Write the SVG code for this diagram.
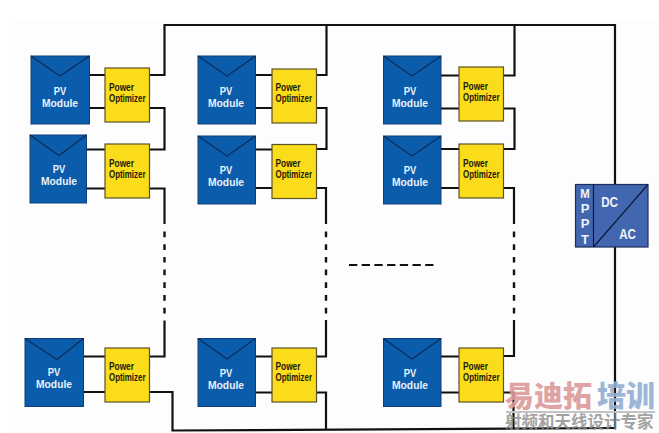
<svg xmlns="http://www.w3.org/2000/svg" width="659" height="433" viewBox="0 0 659 433">
  <defs>
    <style>
      .wire { fill: none; stroke: #111; stroke-width: 2.2; }
      .dash { fill: none; stroke: #111; stroke-width: 2.4; stroke-dasharray: 5.7 7; }
      .gap { fill: none; stroke: #111; stroke-width: 2.2; stroke-dasharray: 8.3 4.4; }
      .panel { fill: #0b5cab; stroke: #0c3f78; stroke-width: 1; }
      .fold { fill: none; stroke: #0a2c58; stroke-width: 1.2; }
      .opt { fill: #fbdc1a; stroke: #5a5226; stroke-width: 1.2; }
      .pv { font: bold 11.8px "Liberation Sans", sans-serif; fill: #eaf2fb; text-anchor: middle; }
      .po { font: bold 10px "Liberation Sans", sans-serif; fill: #1d1a08; }
      .inv { font: bold 13px "Liberation Sans", sans-serif; fill: #eef3fb; text-anchor: middle; }
      .big { font-size: 15.500px; }
      .wm { font: 900 29px "Noto Sans CJK SC", sans-serif; opacity: .9; }
      .wm2 { font: bold 16.500px "Noto Sans CJK SC", sans-serif; fill: #8c8c8c; opacity: .8; }
    </style>
  </defs>
  <rect width="659" height="433" fill="#fff"/>
  <rect x="10" y="19" width="649" height="414" fill="#fdfdfd"/>

  <g id="connectors">
    <!-- main DC bus around the strings -->
    <path class="wire" d="M150 75H164.500V25H615V185M615 247V428"/>
    <path class="wire" d="M616 428L172.500 430.500V392H150"/>
    <!-- string 1 -->
    <path class="wire" d="M89 75H105M89 108H105M150 108H164.500V149.500H150M86 149.500H105M86 188.500H105M150 188.500H164.500V224"/>
    <path class="dash" d="M164.500 231.500V314.500"/>
    <path class="wire" d="M164.500 320.500V356.500H150M84 356.500H105M84 392H105"/>
    <!-- string 2 -->
    <path class="wire" d="M255 75H272M255 108H272M316 75H326.500V25M316 108H326.500V149H316M255 149.500H272M255 188H272M316 188H326V224"/>
    <path class="dash" d="M326 231.500V314.500"/>
    <path class="wire" d="M326 320V356.500H316M255 356.500H272M255 392.500H272M316 392.500H326V430"/>
    <!-- string 3 -->
    <path class="wire" d="M441 75.500H459M441 108.500H459M504 75.500H514.500V25M504 108.500H514.500V149H504M441 149H459M441 188H459M504 188H514V224"/>
    <path class="dash" d="M514 231.500V314.500"/>
    <path class="wire" d="M514 320V356H504M441 356.500H459M441 392.500H459M504 392.500H513.500V429"/>
    <!-- gap between strings -->
    <path class="gap" d="M349 265H435"/>
  </g>

  <g id="s1m1"><rect class="panel" x="31" y="56" width="58.500" height="68"/><path class="fold" d="M31 56L60 76L89.500 56"/><text class="pv" x="60" y="94.500" textLength="12.500" lengthAdjust="spacingAndGlyphs">PV</text><text class="pv" x="60" y="106.500" textLength="36" lengthAdjust="spacingAndGlyphs">Module</text></g>
  <g id="s1p1"><rect class="opt" x="105" y="68" width="44.500" height="54"/><text class="po" x="109" y="90.500" textLength="25" lengthAdjust="spacingAndGlyphs">Power</text><text class="po" x="109" y="102" textLength="36.500" lengthAdjust="spacingAndGlyphs">Optimizer</text></g>
  <g id="s1m2"><rect class="panel" x="30" y="135" width="56.500" height="68"/><path class="fold" d="M30 135L59 155.500L86.500 135"/><text class="pv" x="59" y="173" textLength="12.500" lengthAdjust="spacingAndGlyphs">PV</text><text class="pv" x="59" y="185" textLength="36" lengthAdjust="spacingAndGlyphs">Module</text></g>
  <g id="s1p2"><rect class="opt" x="105" y="144" width="44.500" height="54"/><text class="po" x="109" y="166.500" textLength="25" lengthAdjust="spacingAndGlyphs">Power</text><text class="po" x="109" y="178" textLength="36.500" lengthAdjust="spacingAndGlyphs">Optimizer</text></g>
  <g id="s1m3"><rect class="panel" x="25" y="338.500" width="58.500" height="68"/><path class="fold" d="M25 338.500L57 359.500L83.500 338.500"/><text class="pv" x="54" y="375.500" textLength="12.500" lengthAdjust="spacingAndGlyphs">PV</text><text class="pv" x="54" y="387.500" textLength="36" lengthAdjust="spacingAndGlyphs">Module</text></g>
  <g id="s1p3"><rect class="opt" x="105" y="348" width="44.500" height="54"/><text class="po" x="109" y="369.500" textLength="25" lengthAdjust="spacingAndGlyphs">Power</text><text class="po" x="109" y="381" textLength="36.500" lengthAdjust="spacingAndGlyphs">Optimizer</text></g>

  <g id="s2m1"><rect class="panel" x="198" y="56" width="57.500" height="68"/><path class="fold" d="M198 56L227 76L255.500 56"/><text class="pv" x="226" y="94.500" textLength="12.500" lengthAdjust="spacingAndGlyphs">PV</text><text class="pv" x="226" y="106.500" textLength="36" lengthAdjust="spacingAndGlyphs">Module</text></g>
  <g id="s2p1"><rect class="opt" x="272" y="69" width="44.500" height="54"/><text class="po" x="275.500" y="90.500" textLength="25" lengthAdjust="spacingAndGlyphs">Power</text><text class="po" x="275.500" y="102" textLength="36.500" lengthAdjust="spacingAndGlyphs">Optimizer</text></g>
  <g id="s2m2"><rect class="panel" x="198" y="136" width="57.500" height="68"/><path class="fold" d="M198 136L227 156L255.500 136"/><text class="pv" x="226" y="174" textLength="12.500" lengthAdjust="spacingAndGlyphs">PV</text><text class="pv" x="226" y="186" textLength="36" lengthAdjust="spacingAndGlyphs">Module</text></g>
  <g id="s2p2"><rect class="opt" x="272" y="144.500" width="44.500" height="54"/><text class="po" x="275.500" y="166.500" textLength="25" lengthAdjust="spacingAndGlyphs">Power</text><text class="po" x="275.500" y="178" textLength="36.500" lengthAdjust="spacingAndGlyphs">Optimizer</text></g>
  <g id="s2m3"><rect class="panel" x="198" y="338.500" width="57.500" height="68"/><path class="fold" d="M198 338.500L227 359L255.500 338.500"/><text class="pv" x="226" y="376.500" textLength="12.500" lengthAdjust="spacingAndGlyphs">PV</text><text class="pv" x="226" y="388.500" textLength="36" lengthAdjust="spacingAndGlyphs">Module</text></g>
  <g id="s2p3"><rect class="opt" x="272" y="348" width="44.500" height="54"/><text class="po" x="275.500" y="369.500" textLength="25" lengthAdjust="spacingAndGlyphs">Power</text><text class="po" x="275.500" y="381" textLength="36.500" lengthAdjust="spacingAndGlyphs">Optimizer</text></g>

  <g id="s3m1"><rect class="panel" x="383.500" y="56" width="57.500" height="68"/><path class="fold" d="M383.500 56L412 76L441 56"/><text class="pv" x="410" y="94.500" textLength="12.500" lengthAdjust="spacingAndGlyphs">PV</text><text class="pv" x="410" y="106.500" textLength="36" lengthAdjust="spacingAndGlyphs">Module</text></g>
  <g id="s3p1"><rect class="opt" x="459" y="67" width="44.500" height="54"/><text class="po" x="463" y="89.500" textLength="25" lengthAdjust="spacingAndGlyphs">Power</text><text class="po" x="463" y="101" textLength="36.500" lengthAdjust="spacingAndGlyphs">Optimizer</text></g>
  <g id="s3m2"><rect class="panel" x="383.500" y="136" width="57.500" height="68"/><path class="fold" d="M383.500 136L412 156L441 136"/><text class="pv" x="410" y="174" textLength="12.500" lengthAdjust="spacingAndGlyphs">PV</text><text class="pv" x="410" y="186" textLength="36" lengthAdjust="spacingAndGlyphs">Module</text></g>
  <g id="s3p2"><rect class="opt" x="459" y="144" width="44.500" height="54"/><text class="po" x="463" y="166.500" textLength="25" lengthAdjust="spacingAndGlyphs">Power</text><text class="po" x="463" y="178" textLength="36.500" lengthAdjust="spacingAndGlyphs">Optimizer</text></g>
  <g id="s3m3"><rect class="panel" x="383.500" y="338.500" width="57.500" height="68"/><path class="fold" d="M383.500 338.500L412 359L441 338.500"/><text class="pv" x="410" y="376.500" textLength="12.500" lengthAdjust="spacingAndGlyphs">PV</text><text class="pv" x="410" y="388.500" textLength="36" lengthAdjust="spacingAndGlyphs">Module</text></g>
  <g id="s3p3"><rect class="opt" x="459" y="348" width="44.500" height="54"/><text class="po" x="463" y="369.500" textLength="25" lengthAdjust="spacingAndGlyphs">Power</text><text class="po" x="463" y="381" textLength="36.500" lengthAdjust="spacingAndGlyphs">Optimizer</text></g>

  <g id="inverter">
    <rect x="575.500" y="184.500" width="72.500" height="62.500" fill="#4267b0" stroke="#1c2f5c" stroke-width="1.200"/>
    <path d="M593.500 184.500V247M593.500 247L648 184.500" fill="none" stroke="#0d1a38" stroke-width="1.200"/>
    <text class="inv" x="585" y="197.500" textLength="9.500" lengthAdjust="spacingAndGlyphs">M</text><text class="inv" x="585" y="212.500">P</text><text class="inv" x="585" y="228">P</text><text class="inv" x="585" y="244">T</text>
    <text class="inv big" x="609.500" y="206.500" textLength="16.700" lengthAdjust="spacingAndGlyphs">DC</text><text class="inv big" x="627.500" y="239" textLength="16.700" lengthAdjust="spacingAndGlyphs">AC</text>
  </g>

  <g id="brand">
    <text class="wm" x="505" y="407" fill="#dc9a9a">易迪拓</text>
    <text class="wm" x="597" y="407" fill="#93afd3">培训</text>
    <rect x="506" y="411" width="149" height="2" fill="#c4c4c4"/>
    <text class="wm2" x="505" y="428">射频和天线设计专家</text>
  </g>
</svg>
